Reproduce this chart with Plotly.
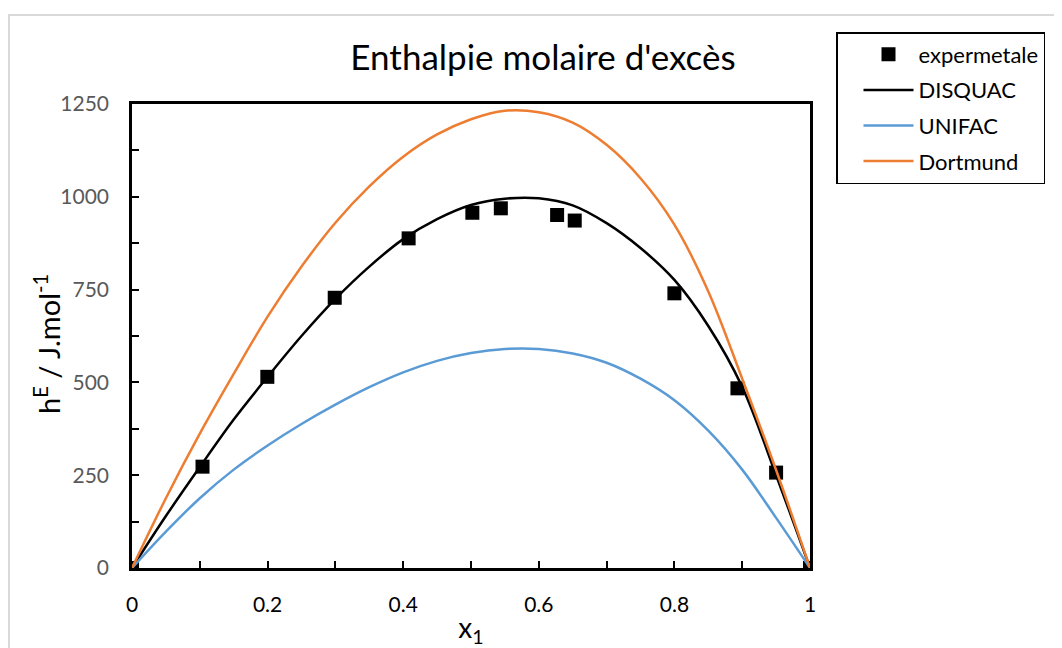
import plotly.graph_objects as go

# Experimental points
x_exp = [0.0, 0.104, 0.1996, 0.299, 0.408, 0.502, 0.544, 0.627, 0.653, 0.800, 0.893, 0.950, 1.0]
h_exp = [0, 273, 515, 728, 888, 957, 969, 951, 936, 740, 484, 257, 0]

# Model curves (read at x = 0, 0.05, ..., 1)
x_grid = [0.0, 0.05, 0.1, 0.15, 0.2, 0.25, 0.3, 0.35, 0.4, 0.45, 0.5,
          0.55, 0.6, 0.65, 0.7, 0.75, 0.8, 0.85, 0.9, 0.95, 1.0]
h_disquac = [0, 140, 272, 400, 515, 625, 725, 812, 886, 940, 978,
             995, 996, 977, 929, 862, 776, 652, 488, 250, 0]
h_unifac = [0, 98, 188, 265, 330, 388, 440, 487, 527, 558, 579,
            590, 590, 578, 553, 510, 452, 370, 265, 135, 0]
h_dortmund = [0, 188, 362, 523, 677, 812, 930, 1028, 1108, 1168, 1209,
              1232, 1228, 1200, 1140, 1050, 925, 745, 510, 264, 0]

x_ticks = [0, 0.2, 0.4, 0.6, 0.8, 1]
x_ticklabels = ["0", "0.2", "0.4", "0.6", "0.8", "1"]
y_ticks = [0, 250, 500, 750, 1000, 1250]

FONT = "Lato"
W, H = 1054, 640
L, T, PW, PH = 124, 96, 678, 464

fig = go.Figure()
fig.add_trace(go.Scatter(x=x_exp, y=h_exp, mode="markers", name="expermetale",
                         legendgroup="a",
                         marker=dict(symbol="square", size=14, color="black")))
fig.add_trace(go.Scatter(x=x_grid, y=h_disquac, mode="lines", name="DISQUAC",
                         legendgroup="b",
                         line=dict(color="black", width=2.5, shape="spline")))
fig.add_trace(go.Scatter(x=x_grid, y=h_unifac, mode="lines", name="UNIFAC",
                         legendgroup="c",
                         line=dict(color="#5B9BD5", width=2.5, shape="spline")))
fig.add_trace(go.Scatter(x=x_grid, y=h_dortmund, mode="lines", name="Dortmund",
                         legendgroup="d",
                         line=dict(color="#ED7D31", width=2.5, shape="spline")))

fig.update_layout(
    width=W, height=H,
    margin=dict(l=L, r=W - L - PW, t=T, b=H - T - PH, autoexpand=False),
    paper_bgcolor="white", plot_bgcolor="white",
    font=dict(family=FONT, color="black"),
    title=dict(text="Enthalpie molaire d'excès", x=(535 - L) / PW, xref="paper",
               xanchor="center", y=1 - 50 / H, yref="container", yanchor="middle",
               font=dict(size=35, color="black", family=FONT)),
    showlegend=True,
    legend=dict(x=(828 - L) / PW, y=(T + PH - 24) / PH, xanchor="left", yanchor="top",
                bordercolor="black", borderwidth=1.5, bgcolor="white",
                font=dict(size=22, color="black", family=FONT),
                tracegroupgap=4, indentation=21, entrywidth=156,
                itemwidth=50),
    xaxis=dict(range=[0, 1], tickvals=x_ticks, ticktext=x_ticklabels,
               showgrid=False, zeroline=False,
               showline=True, linecolor="black", linewidth=2.5, mirror=True,
               ticks="inside", ticklen=7, tickwidth=2, tickcolor="black",
               minor=dict(dtick=0.1, ticks="inside", ticklen=7, tickwidth=2,
                          tickcolor="black", showgrid=False),
               tickfont=dict(size=21, color="black", family=FONT),
               ticklabelstandoff=16,
               title=dict(text="x<sub>1</sub>", standoff=4,
                          font=dict(size=28, color="black", family=FONT))),
    yaxis=dict(range=[0, 1250], tickvals=y_ticks,
               showgrid=False, zeroline=False,
               showline=True, linecolor="black", linewidth=2.5, mirror=True,
               ticks="inside", ticklen=7, tickwidth=2, tickcolor="black",
               minor=dict(dtick=125, ticks="inside", ticklen=7, tickwidth=2,
                          tickcolor="black", showgrid=False),
               tickfont=dict(size=21, color="#595959", family=FONT),
               ticklabelstandoff=16),
    annotations=[dict(text="h<sup>E</sup> / J.mol<sup>-1</sup>", textangle=-90,
                      xref="paper", yref="paper",
                      x=(39 - L) / PW, y=(T + PH - 336) / PH,
                      xanchor="center", yanchor="middle", showarrow=False,
                      font=dict(size=29, color="black", family=FONT))],
    shapes=[dict(type="rect", xref="paper", yref="paper",
                 x0=(1 - L) / PW, x1=(W + 40 - L) / PW,
                 y0=-(H + 40 - T - PH) / PH, y1=(T + PH - 7) / PH,
                 line=dict(color="#D9D9D9", width=2), layer="below")],
)

fig.write_html("out.html")
